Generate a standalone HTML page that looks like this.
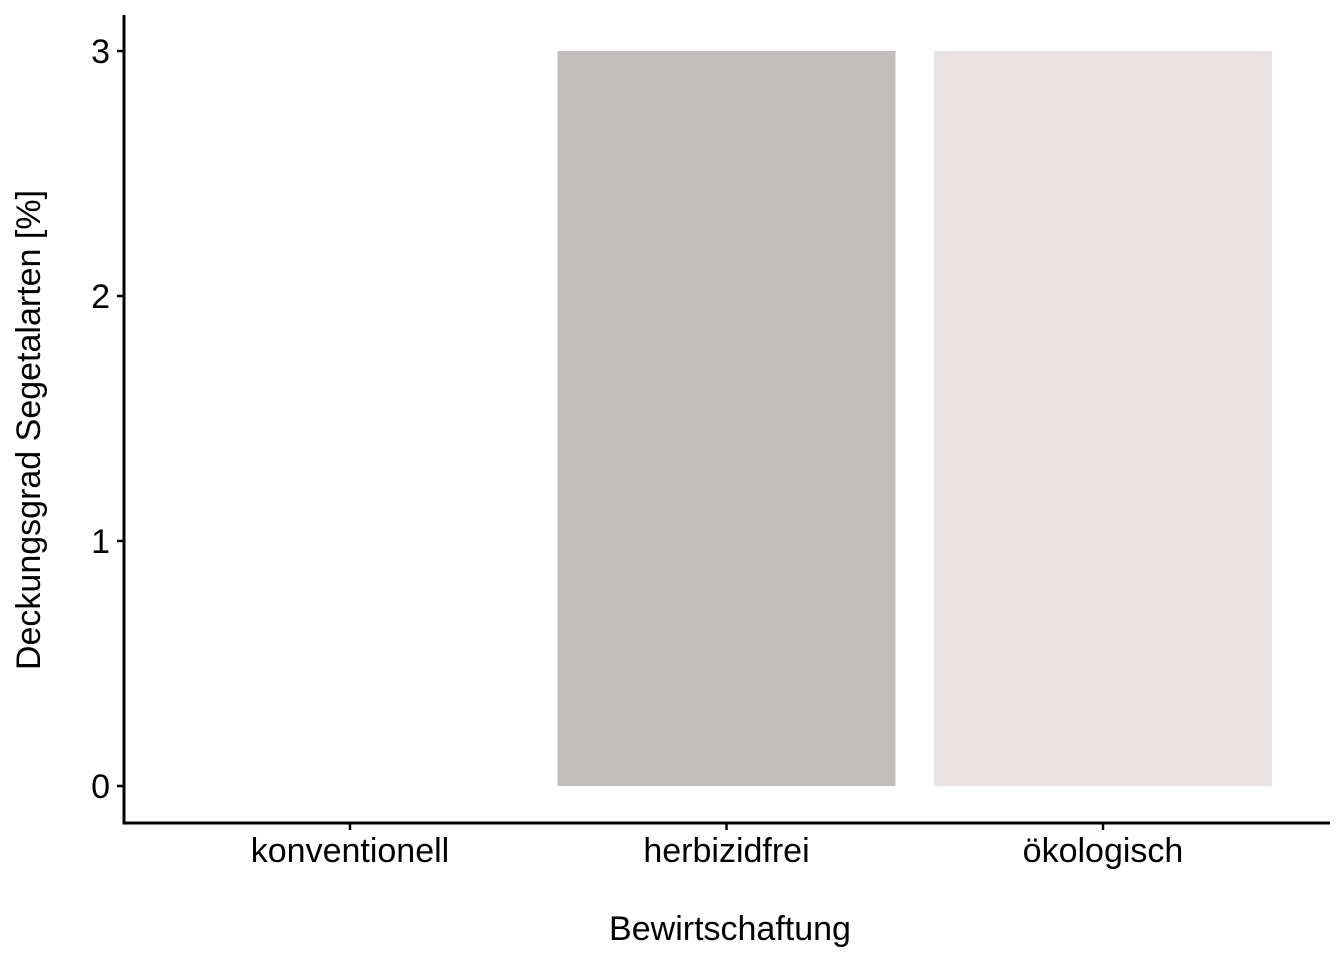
<!DOCTYPE html>
<html><head><meta charset="utf-8"><style>
body{margin:0;background:#fff}
svg text{font-family:"Liberation Sans",Arial,sans-serif;fill:#000}
</style></head><body>
<svg id="c" width="1344" height="960"></svg>
<script>
const categories=["konventionell","herbizidfrei","ökologisch"];
const values=[0,3,3];
const colors=["#ffffff","#c1bebd","#e9e3e3"];
const yTicks=[0,1,2,3];
const NS="http://www.w3.org/2000/svg";
const svg=document.getElementById('c');
const x0=124,x1=1330,yTop=15,yAxis=823;
const y=v=>786-v*245;
function mk(t,a){const e=document.createElementNS(NS,t);for(const k in a)e.setAttribute(k,a[k]);svg.appendChild(e);return e;}
categories.forEach((c,i)=>{
 const cx=350+i*376.5;
 const r=mk('rect',{x:cx-169,y:y(values[i]),width:338,height:y(0)-y(values[i]),fill:colors[i]});
 
 
 const t=mk('line',{x1:cx,x2:cx,y1:yAxis,y2:830,stroke:'#000','stroke-width':2.5});
 
 
 const l=mk('text',{x:cx,y:862,'text-anchor':'middle','font-size':34});
 l.textContent=c;
 
 
});
yTicks.forEach(v=>{
 const t=mk('line',{x1:117,x2:124,y1:y(v),y2:y(v),stroke:'#000','stroke-width':2.5});
 
 
 const l=mk('text',{x:110,y:y(v)+12,'text-anchor':'end','font-size':34});
 l.textContent=v;
 
 
});
const ya=mk('line',{x1:x0,x2:x0,y1:yTop,y2:yAxis+1.5,stroke:'#000','stroke-width':3});


const xa=mk('line',{x1:x0-1.5,x2:x1,y1:yAxis,y2:yAxis,stroke:'#000','stroke-width':3});


const xt=mk('text',{x:730,y:940,'text-anchor':'middle','font-size':34});
xt.textContent='Bewirtschaftung';


const yt=mk('text',{x:0,y:0,'text-anchor':'middle','font-size':34,transform:'translate(40,430) rotate(-90)'});
yt.textContent='Deckungsgrad Segetalarten [%]';


</script>
</body></html>
